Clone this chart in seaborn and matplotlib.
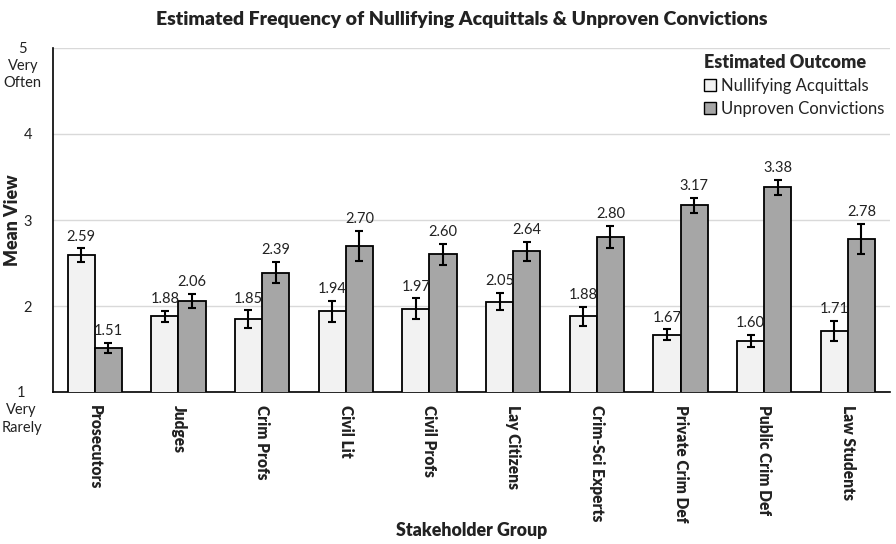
import matplotlib
matplotlib.use("Agg")
import matplotlib.pyplot as plt
import seaborn as sns
import pandas as pd
import numpy as np

groups = ["Prosecutors", "Judges", "Crim Profs", "Civil Lit", "Civil Profs",
          "Lay Citizens", "Crim-Sci Experts", "Private Crim Def",
          "Public Crim Def", "Law Students"]
outcomes = ["Nullifying Acquittals", "Unproven Convictions"]
nullifying = [2.59, 1.88, 1.85, 1.94, 1.97, 2.05, 1.88, 1.67, 1.60, 1.71]
unproven = [1.51, 2.06, 2.39, 2.70, 2.60, 2.64, 2.80, 3.17, 3.38, 2.78]
nullifying_err = [0.08, 0.06, 0.10, 0.12, 0.12, 0.10, 0.11, 0.06, 0.07, 0.12]
unproven_err = [0.06, 0.08, 0.12, 0.17, 0.12, 0.11, 0.13, 0.09, 0.09, 0.17]
colors = ["#F2F2F2", "#A6A6A6"]

df = pd.DataFrame({
    "group": groups * 2,
    "outcome": [outcomes[0]] * len(groups) + [outcomes[1]] * len(groups),
    "mean": nullifying + unproven,
})
errs = [nullifying_err, unproven_err]
means = [nullifying, unproven]

sns.set_theme(style="white")
plt.rcParams["font.family"] = ["Lato", "DejaVu Sans"]
BOLD = "heavy"
TXT = "#222222"

fig = plt.figure(figsize=(8.96, 5.44), dpi=100)
ax = fig.add_axes([0.059, 0.279, 0.934, 0.633])

sns.barplot(data=df, x="group", y="mean", hue="outcome", order=groups,
            hue_order=outcomes, palette=colors, width=0.65, gap=0,
            edgecolor="black", linewidth=1.3, errorbar=None, ax=ax, zorder=3)

bar_containers = list(ax.containers)
for k, cont in enumerate(bar_containers):
    for i, patch in enumerate(cont.patches):
        xc = patch.get_x() + patch.get_width() / 2
        m, e = means[k][i], errs[k][i]
        ax.errorbar(xc, m, yerr=e, fmt="none", ecolor="black", elinewidth=1.5,
                    capsize=3, capthick=1.5, zorder=4)
        ax.annotate(f"{m:.2f}", xy=(xc, m + e), xytext=(0, 3.5),
                    textcoords="offset points", ha="center", va="bottom",
                    fontsize=10.5, color=TXT)

ax.set_ylim(1, 5)
ax.set_xlim(-0.5, len(groups) - 0.5)
ax.set_yticks([1, 2, 3, 4, 5])
ax.set_yticklabels(["", "2", "3", "4", ""], fontsize=10.5, color=TXT)
ax.tick_params(axis="y", length=0, pad=15)
ax.tick_params(axis="x", length=0, pad=9)
for lbl in ax.get_xticklabels():
    lbl.set_rotation(270)
    lbl.set_fontweight(BOLD)
    lbl.set_fontsize(11.2)
    lbl.set_va("top")
    lbl.set_ha("center")
    lbl.set_color(TXT)

for val, txt in [(5, "5\nVery\nOften"), (1, "1\nVery\nRarely")]:
    ax.annotate(txt, xy=(0, val), xycoords=("axes fraction", "data"),
                xytext=(-8, 4.5), textcoords="offset points", ha="right",
                va="top", multialignment="center", fontsize=10.5,
                color=TXT, linespacing=1.3)

ax.yaxis.grid(True, color="#D9D9D9", linewidth=1, zorder=0)
ax.set_axisbelow(True)
for side in ["top", "right"]:
    ax.spines[side].set_visible(False)
ax.spines["left"].set_color("black")
ax.spines["bottom"].set_color("black")
ax.spines["left"].set_linewidth(1.2)
ax.spines["bottom"].set_linewidth(1.2)

ax.set_ylabel("Mean View", fontsize=12.8, fontweight=BOLD, color=TXT)
ax.yaxis.set_label_coords(-0.038, 0.5)
ax.set_xlabel("Stakeholder Group", fontsize=12.8, fontweight=BOLD, color=TXT)
ax.xaxis.set_label_coords(0.5, -0.378)

leg = ax.legend(title="Estimated Outcome", loc="upper right",
                bbox_to_anchor=(1.012, 1.027), frameon=False, fontsize=12,
                title_fontproperties={"weight": BOLD, "size": 13},
                handlelength=0.75, handleheight=0.75, handletextpad=0.3,
                labelspacing=0.42, alignment="left")
for h in leg.legend_handles:
    h.set_edgecolor("black")
    h.set_linewidth(1)
for t in leg.get_texts():
    t.set_color(TXT)

fig.text(462 / 896, 1 - 19 / 544,
         "Estimated Frequency of Nullifying Acquittals & Unproven Convictions",
         ha="center", va="center", fontsize=14, fontweight=BOLD, color=TXT)

fig.savefig("out.png", dpi=100)
